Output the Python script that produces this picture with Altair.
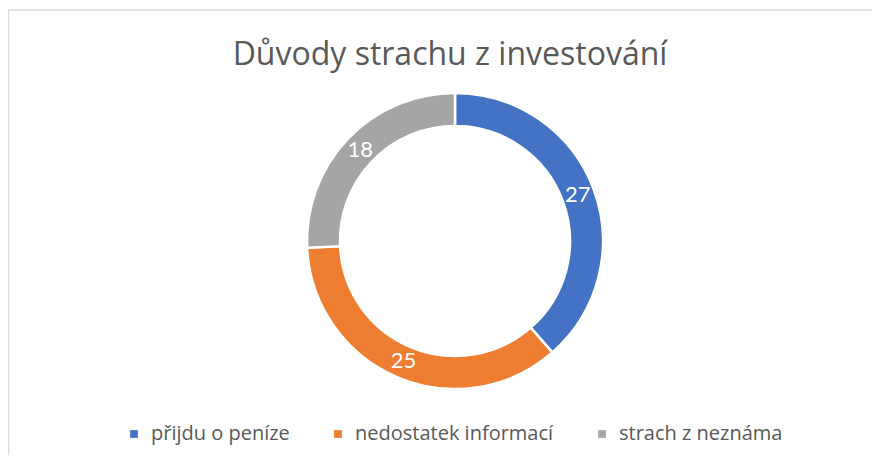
import altair as alt
import pandas as pd

categories = ["přijdu o peníze", "nedostatek informací", "strach z neznáma"]
values = [27, 25, 18]
colors = ["#4472C4", "#ED7D31", "#A5A5A5"]
title_text = "Důvody strachu z investování"

df = pd.DataFrame({"kategorie": categories, "hodnota": values, "poradi": list(range(len(values)))})

W, H = 834, 296
PAD = {"left": 30, "right": 0, "top": 85, "bottom": 66}
FONT = "Open Sans"

base = alt.Chart(df).encode(
    theta=alt.Theta("hodnota:Q", stack=True),
    order=alt.Order("poradi:Q"),
)

arcs = base.mark_arc(outerRadius=148, innerRadius=115, stroke="white", strokeWidth=2.5).encode(
    color=alt.Color(
        "kategorie:N",
        scale=alt.Scale(domain=categories, range=colors),
        sort=categories,
        legend=alt.Legend(
            title=None,
            orient="none",
            direction="horizontal",
            legendX=86,
            legendY=331,
            symbolType="square",
            symbolSize=60,
            symbolStrokeWidth=0,
            labelFont=FONT,
            labelFontSize=20,
            labelColor="#595959",
            labelOffset=7,
            labelLimit=400,
            columnPadding=38,
            padding=0,
        ),
    )
)

labels = base.mark_text(radius=131, color="white", font="Lato", fontSize=22).encode(
    text=alt.Text("hodnota:Q")
)

border_df = pd.DataFrame({"a": [0]})
top_border = alt.Chart(border_df).mark_rule(color="#d9d9d9", strokeWidth=1.5).encode(
    x=alt.value(-30), x2=alt.value(W), y=alt.value(-83)
)
left_border = alt.Chart(border_df).mark_rule(color="#d9d9d9", strokeWidth=1.5).encode(
    x=alt.value(-29.5), y=alt.value(-83), y2=alt.value(H + PAD["bottom"])
)

chart = alt.layer(top_border, left_border, arcs, labels).properties(
    width=W,
    height=H,
    padding=PAD,
    autosize=alt.AutoSizeParams(type="none"),
    title=alt.Title(
        title_text,
        font=FONT,
        fontSize=32,
        fontWeight="normal",
        color="#595959",
        anchor="middle",
        baseline="alphabetic",
        offset=-88,
        dx=-5,
    ),
).configure_view(stroke=None)

chart.save("out.html", embed_options={"renderer": "svg", "actions": False})
